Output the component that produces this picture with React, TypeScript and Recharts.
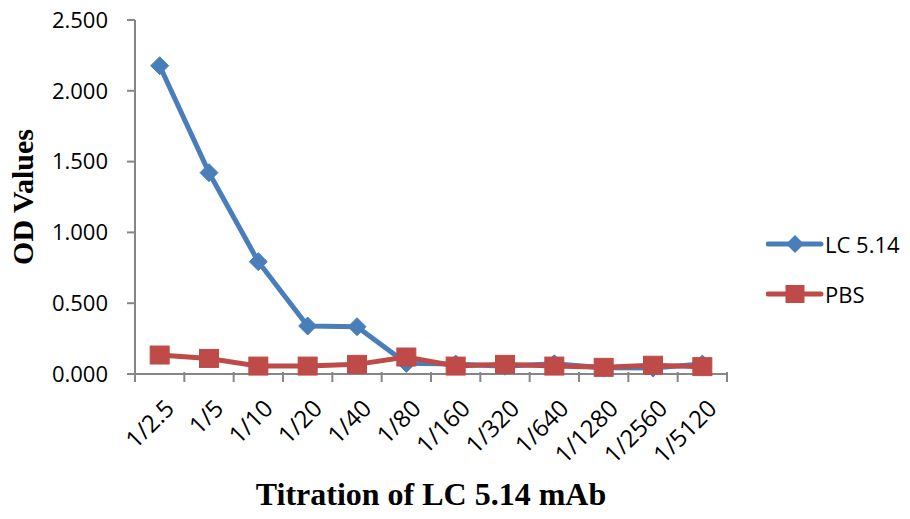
import { Legend, Line, LineChart, XAxis, YAxis } from "recharts";

const dilutions = [
  "1/2.5",
  "1/5",
  "1/10",
  "1/20",
  "1/40",
  "1/80",
  "1/160",
  "1/320",
  "1/640",
  "1/1280",
  "1/2560",
  "1/5120",
];
const lcValues = [2.177, 1.422, 0.793, 0.339, 0.334, 0.075, 0.07, 0.055, 0.072, 0.045, 0.042, 0.07];
const pbsValues = [0.134, 0.11, 0.056, 0.056, 0.068, 0.12, 0.056, 0.068, 0.056, 0.047, 0.062, 0.052];
const yTicks = [0, 0.5, 1, 1.5, 2, 2.5];

const BLUE = "#4A7EBB";
const RED = "#BE4B48";
const AXIS = "#868686";
const SANS = "'Open Sans', sans-serif";
const SERIF = "'Liberation Serif', 'Times New Roman', serif";

const data = dilutions.map((d, i) => ({ dilution: d, lc: lcValues[i], pbs: pbsValues[i] }));

// diamond marker for LC 5.14
function Diamond(props: any) {
  const { cx, cy, index } = props;
  if (cx == null || cy == null) return <g key={index} />;
  return (
    <path
      key={index}
      d={`M${cx},${cy - 9} L${cx + 9},${cy} L${cx},${cy + 9} L${cx - 9},${cy} Z`}
      fill={BLUE}
      stroke={BLUE}
      strokeWidth={1}
    />
  );
}

// square marker for PBS
function Square(props: any) {
  const { cx, cy, index } = props;
  if (cx == null || cy == null) return <g key={index} />;
  return <rect key={index} x={cx - 9.5} y={cy - 9} width={19} height={18} fill={RED} stroke={RED} />;
}

// Excel-like category ticks: tick marks between categories, rotated labels
function XTick(props: any) {
  const { x, y, payload, index, visibleTicksCount } = props;
  const half = payload.offset || 0;
  const axisY = y - 10;
  const last = index === (visibleTicksCount ?? dilutions.length) - 1;
  const tx = x + 16;
  const ty = axisY + 36;
  return (
    <g>
      <line x1={x - half} x2={x - half} y1={axisY - 2} y2={axisY + 8} stroke={AXIS} strokeWidth={2} />
      {last && <line x1={x + half} x2={x + half} y1={axisY - 2} y2={axisY + 8} stroke={AXIS} strokeWidth={2} />}
      <text
        x={tx}
        y={ty}
        textAnchor="end"
        fontFamily={SANS}
        fontSize={24}
        fill="#000"
        transform={`rotate(-45, ${tx}, ${ty})`}
      >
        {payload.value}
      </text>
    </g>
  );
}

function LegendContent() {
  const items = [
    { name: "LC 5.14", color: BLUE, shape: "diamond" },
    { name: "PBS", color: RED, shape: "square" },
  ];
  return (
    <svg width={142} height={80}>
      {items.map((it, i) => {
        const cy = 14 + i * 50;
        return (
          <g key={it.name}>
            <line x1={2} x2={55} y1={cy} y2={cy} stroke={it.color} strokeWidth={5} strokeLinecap="round" />
            {it.shape === "diamond" ? (
              <path d={`M29,${cy - 9} L38,${cy} L29,${cy + 9} L20,${cy} Z`} fill={it.color} />
            ) : (
              <rect x={19.5} y={cy - 9} width={19} height={18} fill={it.color} />
            )}
            <text x={59} y={cy} dominantBaseline="central" fontFamily={SANS} fontSize={22} fill="#000">
              {it.name}
            </text>
          </g>
        );
      })}
    </svg>
  );
}

export default function App() {
  return (
    <div style={{ position: "absolute", left: 0, top: 0, width: 910, height: 519, background: "#fff" }}>
      <LineChart width={910} height={519} data={data} margin={{ top: 20, right: 183, left: 0, bottom: 0 }}>
        <XAxis
          dataKey="dilution"
          scale="band"
          height={145}
          interval={0}
          tickLine={false}
          tickSize={0}
          tickMargin={10}
          axisLine={{ stroke: AXIS, strokeWidth: 2 }}
          tick={<XTick />}
          label={{
            content: ({ viewBox }: any) => (
              <text
                x={viewBox.x + viewBox.width / 2}
                y={viewBox.y + 131}
                textAnchor="middle"
                fontFamily={SERIF}
                fontWeight="bold"
                fontSize={32}
                fill="#000"
              >
                Titration of LC 5.14 mAb
              </text>
            ),
          }}
        />
        <YAxis
          width={135}
          domain={[0, 2.5]}
          ticks={yTicks}
          interval={0}
          tickFormatter={(v: number) => v.toFixed(3)}
          tickSize={8}
          tickMargin={19}
          tickLine={{ stroke: AXIS, strokeWidth: 2 }}
          axisLine={{ stroke: AXIS, strokeWidth: 2 }}
          tick={{ fill: "#000", fontFamily: SANS, fontSize: 22 }}
          label={{
            content: ({ viewBox }: any) => {
              const lx = viewBox.x + 33;
              const ly = viewBox.y + viewBox.height / 2;
              return (
                <text
                  x={lx}
                  y={ly}
                  textAnchor="middle"
                  fontFamily={SERIF}
                  fontWeight="bold"
                  fontSize={30}
                  fill="#000"
                  transform={`rotate(-90, ${lx}, ${ly})`}
                >
                  OD Values
                </text>
              );
            },
          }}
        />
        <Legend
          layout="horizontal"
          verticalAlign="middle"
          align="center"
          content={<LegendContent />}
          wrapperStyle={{ left: 766, top: 230, width: 142, height: 80 }}
        />
        <Line
          dataKey="lc"
          name="LC 5.14"
          stroke={BLUE}
          strokeWidth={5}
          dot={Diamond}
          activeDot={false}
          isAnimationActive={false}
        />
        <Line
          dataKey="pbs"
          name="PBS"
          stroke={RED}
          strokeWidth={5}
          dot={Square}
          activeDot={false}
          isAnimationActive={false}
        />
      </LineChart>
    </div>
  );
}
